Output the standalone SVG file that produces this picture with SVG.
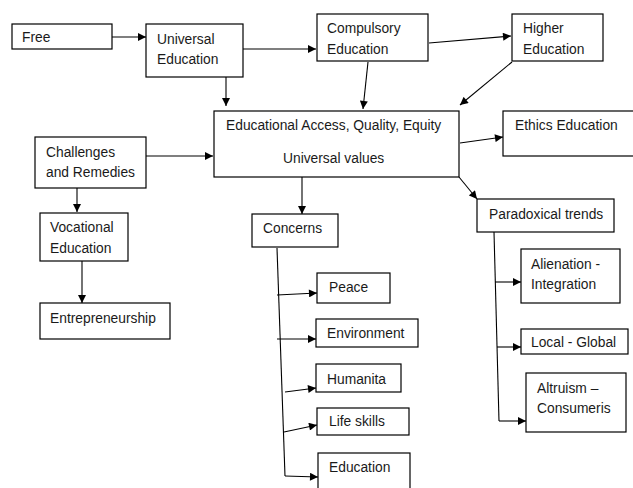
<svg xmlns="http://www.w3.org/2000/svg" width="633" height="488" viewBox="0 0 633 488">
<style>
rect{fill:#fff;stroke:#000;stroke-width:1.2}
text{font-family:"Liberation Sans",Arial,sans-serif;font-size:13.8px;fill:#1a1a1a}
.c line,.c polyline{stroke:#000;stroke-width:1.1;fill:none}
.a{marker-end:url(#ah)}
</style>
<defs>
<marker id="ah" viewBox="0 0 10 10" refX="10" refY="5" markerWidth="9" markerHeight="8" markerUnits="userSpaceOnUse" orient="auto"><path d="M0,0L10,5L0,10z" fill="#000"/></marker>
</defs>
<rect width="633" height="488" style="stroke:none"/>
<g class="c">
<line class="a" x1="112" y1="37" x2="146" y2="37"/>
<line class="a" x1="243" y1="49" x2="316" y2="49"/>
<line class="a" x1="226" y1="77" x2="226" y2="106"/>
<line class="a" x1="429" y1="43" x2="511" y2="36"/>
<line class="a" x1="368" y1="62" x2="363" y2="109"/>
<line class="a" x1="512" y1="62" x2="460" y2="105"/>
<line class="a" x1="146" y1="156" x2="213" y2="156"/>
<line class="a" x1="77" y1="188" x2="77" y2="212"/>
<line class="a" x1="82" y1="261" x2="82" y2="303"/>
<line class="a" x1="302" y1="177" x2="302" y2="214"/>
<line class="a" x1="460" y1="143" x2="503" y2="137"/>
<line class="a" x1="459" y1="177" x2="477" y2="199"/>
<line x1="494" y1="232" x2="499" y2="421"/>
<line class="a" x1="495" y1="282" x2="521" y2="282"/>
<line class="a" x1="497" y1="347" x2="521" y2="347"/>
<line class="a" x1="499" y1="421" x2="526" y2="421"/>
<line x1="277" y1="248" x2="285" y2="476"/>
<line class="a" x1="277" y1="295" x2="317" y2="293"/>
<line class="a" x1="277" y1="339" x2="316" y2="339"/>
<line class="a" x1="285" y1="392" x2="316" y2="388"/>
<line class="a" x1="284" y1="432" x2="317" y2="425"/>
<line class="a" x1="285" y1="476" x2="318" y2="477"/>
</g>
<g id="free"><rect x="12" y="24" width="100" height="25"/><text x="22" y="42">Free</text></g>
<g id="universal"><rect x="146" y="24" width="97" height="53"/><text x="157" y="44">Universal</text><text x="157" y="64">Education</text></g>
<g id="compulsory"><rect x="317" y="14" width="111" height="47"/><text x="327" y="33">Compulsory</text><text x="327" y="54">Education</text></g>
<g id="higher"><rect x="512" y="14" width="91" height="47"/><text x="523" y="33">Higher</text><text x="523" y="54">Education</text></g>
<g id="main"><rect x="214" y="111" width="245" height="66"/><text x="226" y="130">Educational Access, Quality, Equity</text><text x="283" y="163">Universal values</text></g>
<g id="challenges"><rect x="35" y="137" width="111" height="51"/><text x="46" y="157">Challenges</text><text x="46" y="177">and Remedies</text></g>
<g id="vocational"><rect x="40" y="213" width="88" height="48"/><text x="50" y="232">Vocational</text><text x="50" y="253">Education</text></g>
<g id="entrepreneurship"><rect x="40" y="303" width="130" height="36"/><text x="50" y="323">Entrepreneurship</text></g>
<g id="ethics"><rect x="503" y="111" width="135" height="45"/><text x="515" y="130">Ethics Education</text></g>
<g id="concerns"><rect x="252" y="214" width="86" height="33"/><text x="263" y="233">Concerns</text></g>
<g id="paradoxical"><rect x="477" y="199" width="137" height="33"/><text x="489" y="219">Paradoxical trends</text></g>
<g id="alienation"><rect x="521" y="249" width="99" height="54"/><text x="531" y="269">Alienation -</text><text x="531" y="289">Integration</text></g>
<g id="localglobal"><rect x="521" y="329" width="107" height="25"/><text x="531" y="347">Local - Global</text></g>
<g id="altruism"><rect x="526" y="373" width="100" height="59"/><text x="537" y="393">Altruism –</text><text x="537" y="413">Consumeris</text></g>
<g id="peace"><rect x="317" y="273" width="73" height="30"/><text x="329" y="292">Peace</text></g>
<g id="environment"><rect x="316" y="319" width="102" height="28"/><text x="327" y="338">Environment</text></g>
<g id="humanita"><rect x="316" y="364" width="85" height="28"/><text x="327" y="384">Humanita</text></g>
<g id="lifeskills"><rect x="317" y="408" width="92" height="27"/><text x="329" y="426">Life skills</text></g>
<g id="education"><rect x="318" y="453" width="92" height="40"/><text x="329" y="472">Education</text></g>
</svg>
